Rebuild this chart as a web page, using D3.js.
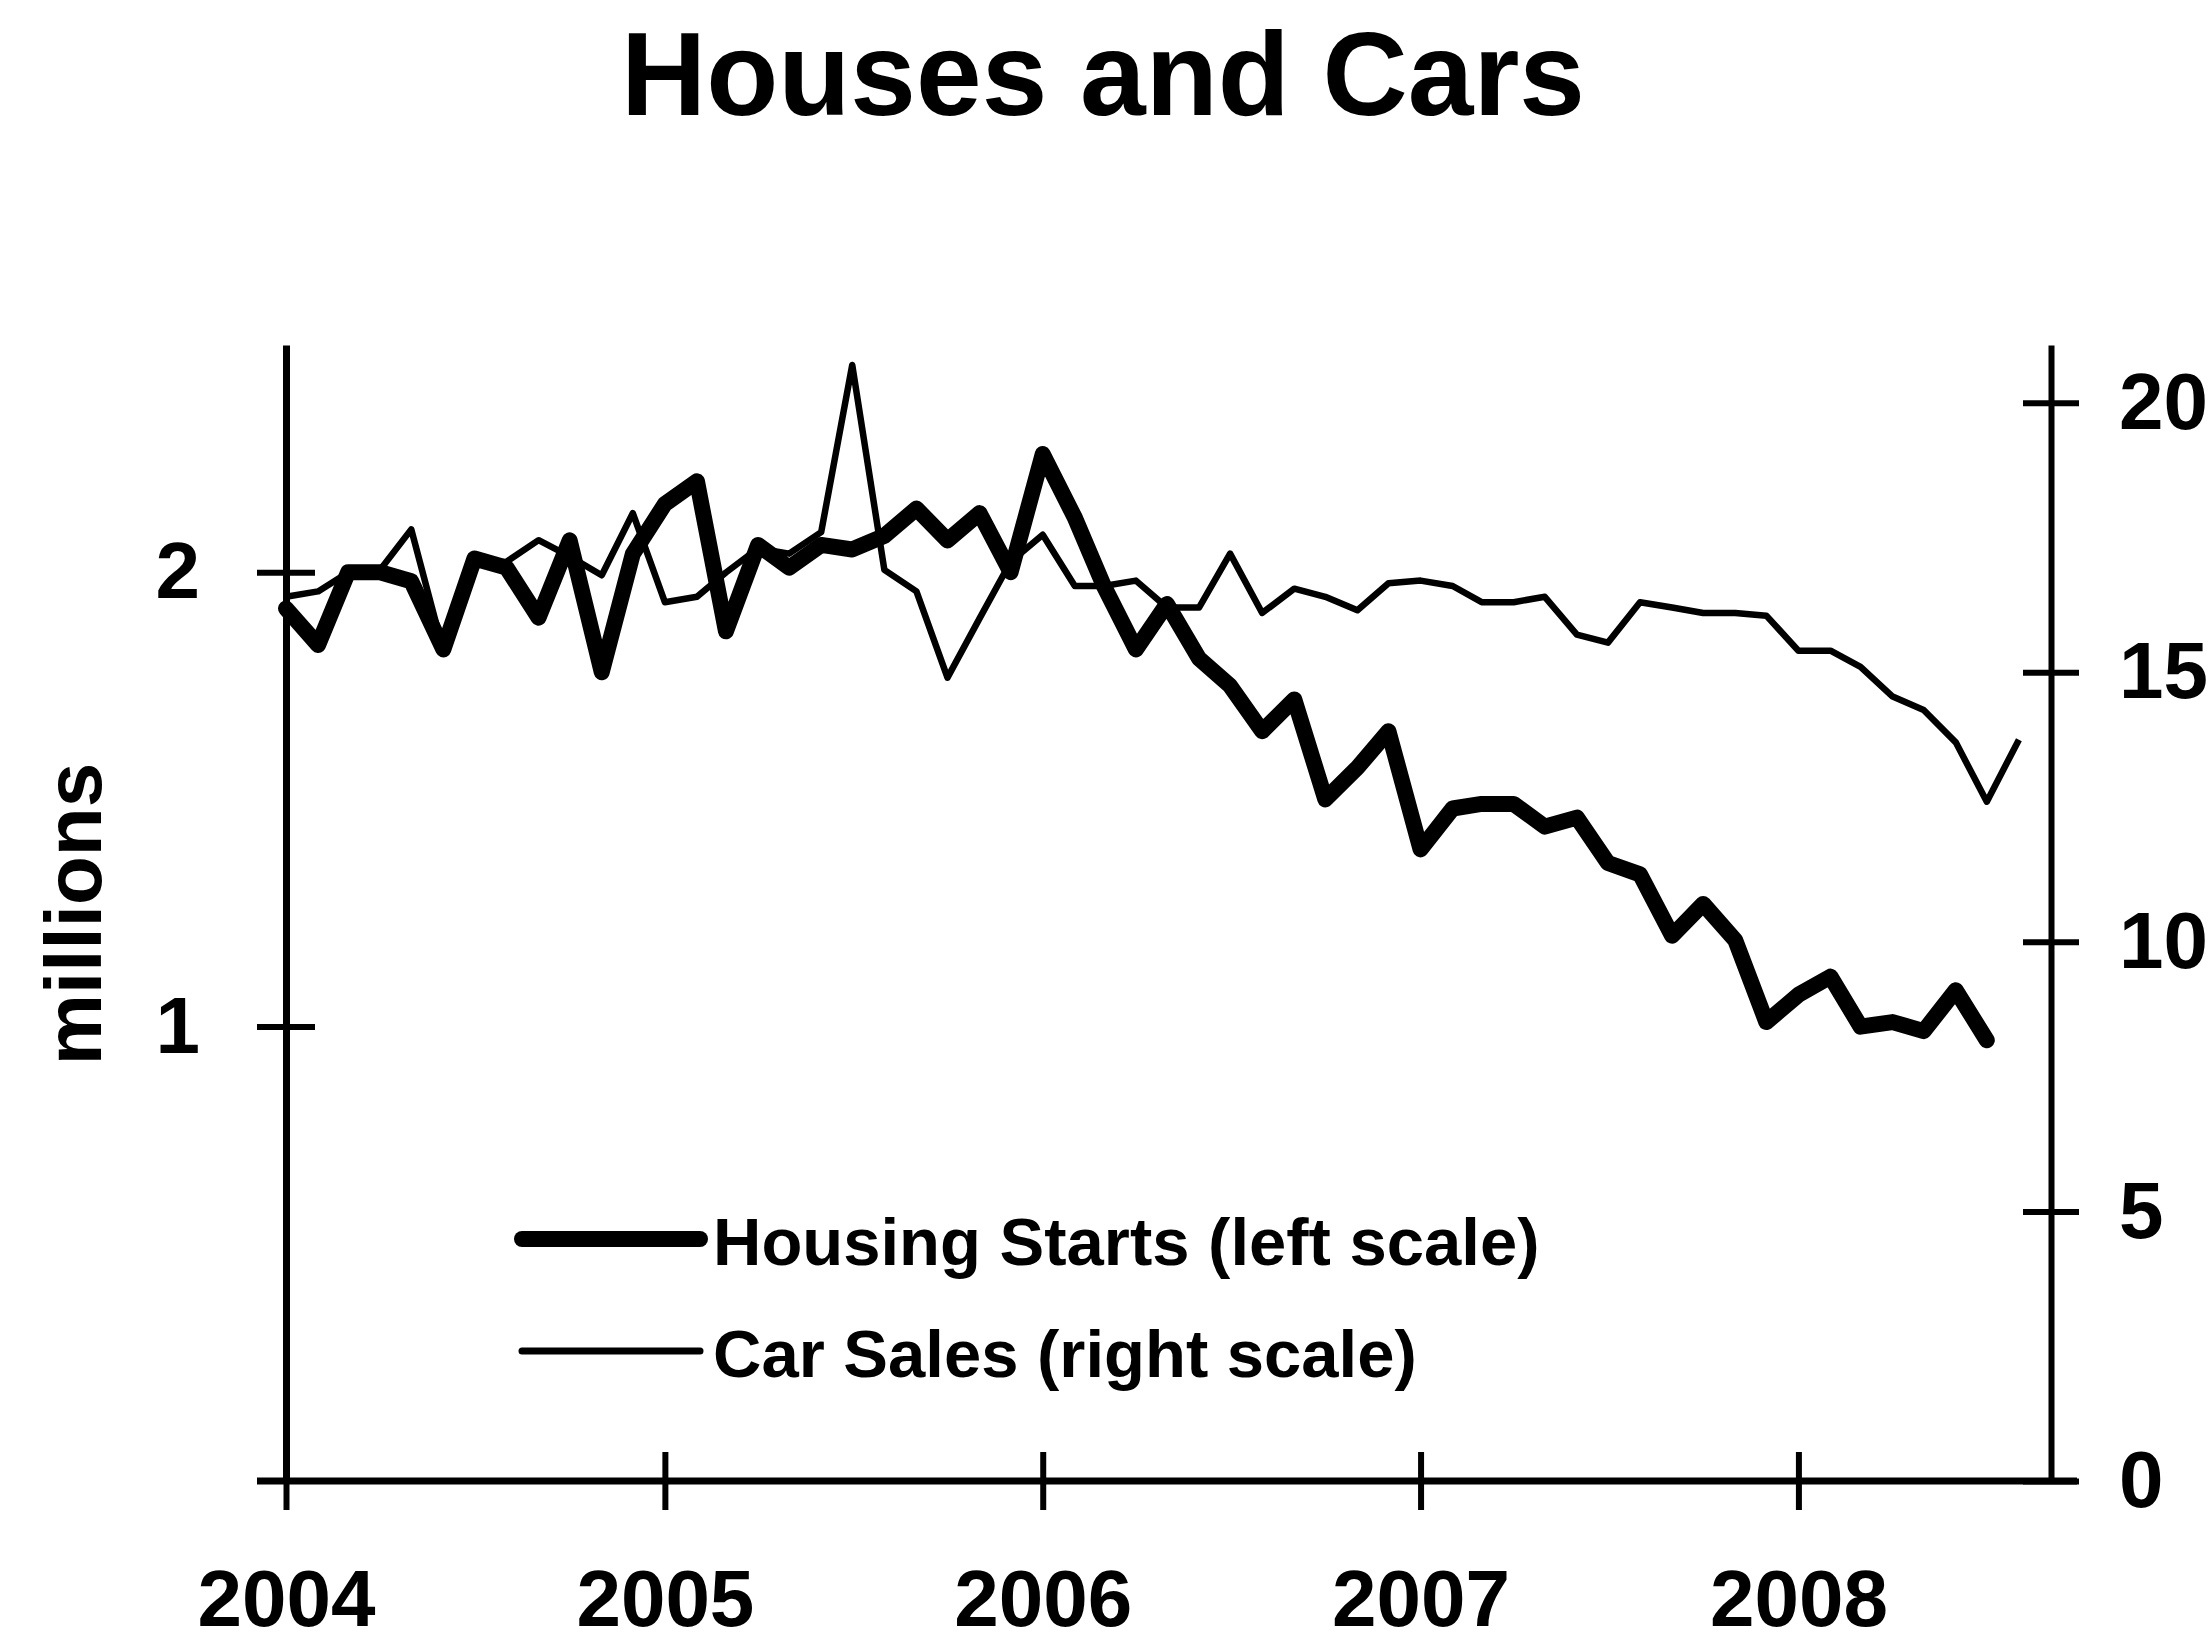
<!DOCTYPE html>
<html>
<head>
<meta charset="utf-8">
<script src="https://cdn.jsdelivr.net/npm/d3@7"></script>
<style>
  body { margin: 0; background: #fff; }
  text { font-family: "Liberation Sans", Arial, Helvetica, sans-serif; font-weight: bold; fill: #000; }
</style>
</head>
<body>
<script>
// monthly data, Jan 2004 onwards
const housingStarts = [
  1.92, 1.84, 2.00, 2.00, 1.98, 1.83, 2.03, 2.01, 1.90, 2.07, 1.78, 2.04,
  2.15, 2.20, 1.87, 2.06, 2.01, 2.06, 2.05, 2.08, 2.14, 2.07, 2.13, 2.00,
  2.26, 2.12, 1.97, 1.83, 1.93, 1.81, 1.75, 1.65, 1.72, 1.50, 1.57, 1.65,
  1.39, 1.48, 1.49, 1.49, 1.44, 1.46, 1.36, 1.335, 1.20, 1.27, 1.19, 1.01,
  1.07, 1.11, 1.00, 1.01, 0.99, 1.08, 0.97
]
const carSales = [
  16.4, 16.5, 16.85, 16.9, 17.65, 15.4, 17.0, 17.05, 17.45, 17.15, 16.8, 17.95,
  16.3, 16.4, 16.85, 17.3, 17.2, 17.6, 20.7, 16.9, 16.5, 14.9, 16.0, 17.05,
  17.55, 16.6, 16.6, 16.7, 16.2, 16.2, 17.2, 16.1, 16.55, 16.4, 16.15, 16.65,
  16.7, 16.6, 16.3, 16.3, 16.4, 15.7, 15.55, 16.3, 16.2, 16.1, 16.1, 16.05,
  15.4, 15.4, 15.1, 14.55, 14.3, 13.7, 12.6, 13.75
]
const months = d3.timeMonth.range(new Date(2004, 0, 1), new Date(2008, 8, 1))
const yearTicks = [2004, 2005, 2006, 2007, 2008]
const leftTicks = [1, 2]
const rightTicks = [0, 5, 10, 15, 20]

// set the dimensions and margins of the graph
const W = 2210, H = 1643
const margin = {top: 345, right: 159, bottom: 162, left: 286},
    width = W - margin.left - margin.right,
    height = H - margin.top - margin.bottom

const svg = d3.select("body")
    .append("svg")
    .attr("width", W)
    .attr("height", H)

const g = svg.append("g")
    .attr("transform", "translate(" + margin.left + "," + margin.top + ")")

// scales
const x = d3.scaleTime()
    .domain([new Date(2004, 0, 1), new Date(2008, 8, 1)])
    .range([0, width])
const yL = d3.scaleLinear().domain([0, 2.5]).range([height, 0])
const yR = d3.scaleLinear().domain([0, 21.07]).range([height, 0])

// title
svg.append("text")
    .attr("x", 1103).attr("y", 115)
    .attr("text-anchor", "middle")
    .style("font-size", "118px")
    .text("Houses and Cars")

// y label
svg.append("text")
    .attr("transform", "translate(101,914) rotate(-90)")
    .attr("text-anchor", "middle")
    .style("font-size", "80px")
    .text("millions")

// x axis
const xAxis = g.append("g")
    .attr("transform", "translate(0," + height + ")")
    .call(d3.axisBottom(x)
        .tickValues(yearTicks.map(function(yr) { return new Date(yr, 0, 1) }))
        .tickFormat(d3.timeFormat("%Y"))
        .tickSize(29).tickSizeOuter(0))
xAxis.select(".domain").remove()
xAxis.selectAll("line").attr("y1", -29).attr("stroke-width", 6)
xAxis.selectAll("text")
    .attr("y", 145).attr("dy", 0)
    .style("font-size", "80px")
xAxis.append("line")
    .attr("x1", -29).attr("x2", width + 26)
    .attr("stroke", "#000").attr("stroke-width", 7)

// left axis
const leftAxis = g.append("g")
    .call(d3.axisLeft(yL).tickValues(leftTicks).tickFormat(d3.format("d"))
        .tickSize(29).tickSizeOuter(0))
leftAxis.select(".domain").attr("stroke-width", 7)
leftAxis.selectAll("line").attr("x1", 29).attr("stroke-width", 6)
leftAxis.selectAll("text")
    .attr("x", -86)
    .style("font-size", "80px")

// right axis
const rightAxis = g.append("g")
    .attr("transform", "translate(" + width + ",0)")
    .call(d3.axisRight(yR).tickValues(rightTicks)
        .tickSize(28).tickSizeOuter(0))
rightAxis.select(".domain").attr("stroke-width", 6)
rightAxis.selectAll("line").attr("x1", -28).attr("stroke-width", 6)
rightAxis.selectAll("text")
    .attr("x", 68)
    .style("font-size", "80px")

// lines
g.append("path")
    .datum(carSales)
    .attr("fill", "none")
    .attr("stroke", "#000")
    .attr("stroke-width", 6.5)
    .attr("stroke-linejoin", "round")
    .attr("d", d3.line()
        .x(function(d, i) { return x(months[i]) })
        .y(function(d) { return yR(d) }))

g.append("path")
    .datum(housingStarts)
    .attr("fill", "none")
    .attr("stroke", "#000")
    .attr("stroke-width", 16)
    .attr("stroke-linejoin", "round")
    .attr("stroke-linecap", "round")
    .attr("d", d3.line()
        .x(function(d, i) { return x(months[i]) })
        .y(function(d) { return yL(d) }))

// legend
const legend = [
  {label: "Housing Starts (left scale)", w: 16, y: 1239},
  {label: "Car Sales (right scale)", w: 7, y: 1351}
]
legend.forEach(function(l) {
  svg.append("line")
      .attr("x1", 522).attr("x2", 700)
      .attr("y1", l.y).attr("y2", l.y)
      .attr("stroke", "#000").attr("stroke-width", l.w)
      .attr("stroke-linecap", "round")
  svg.append("text")
      .attr("x", 713).attr("y", l.y + 26)
      .style("font-size", "67px")
      .text(l.label)
})
</script>
</body>
</html>
